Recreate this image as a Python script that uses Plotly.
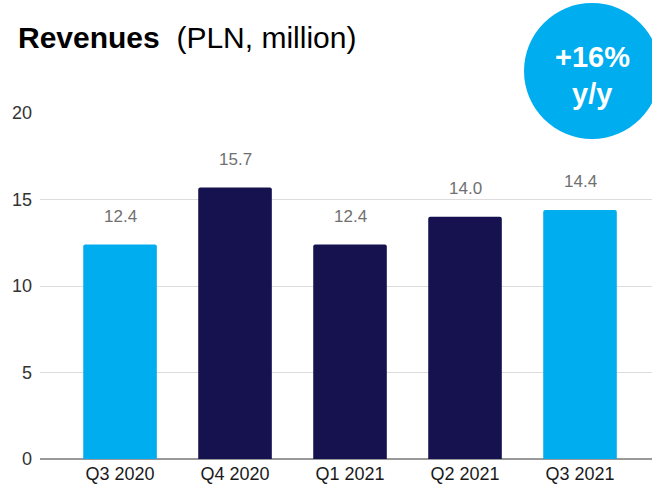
import plotly.graph_objects as go

quarters = ["Q3 2020", "Q4 2020", "Q1 2021", "Q2 2021", "Q3 2021"]
revenues = [12.4, 15.7, 12.4, 14.0, 14.4]
bar_colors = ["#00ADEF", "#15124F", "#15124F", "#15124F", "#00ADEF"]
y_ticks = [0, 5, 10, 15, 20]
growth_lines = ["+16%", "y/y"]

FONT = "Liberation Sans, Arial, Helvetica, sans-serif"
W, H = 652, 489
L, R, T, B = 40, 0, 113, 30
plot_w, plot_h = W - L - R, H - T - B


def px_x(p):
    return (p - L) / plot_w


def px_y(p):
    return (H - B - p) / plot_h


fig = go.Figure()
fig.add_trace(go.Bar(
    x=list(range(len(quarters))),
    y=revenues,
    marker=dict(color=bar_colors, line=dict(width=0), cornerradius=2),
    width=0.64,
    hoverinfo="skip",
))

# value labels above the bars
for i, v in enumerate(revenues):
    fig.add_annotation(
        x=i, y=v, text=f"{v:.1f}", showarrow=False,
        yshift=28, yanchor="middle", xanchor="center",
        font=dict(size=17, color="#707070", family=FONT),
    )

# title
fig.add_annotation(
    x=px_x(16), y=px_y(37), xref="paper", yref="paper", showarrow=False,
    text="<b>Revenues</b>  (PLN, million)",
    font=dict(size=30, color="#000000", family=FONT),
    xanchor="left", yanchor="middle",
)

# growth badge
cx, cy, r = 592, 71, 68
fig.add_shape(
    type="circle", xref="paper", yref="paper",
    x0=px_x(cx - r), x1=px_x(cx + r), y0=px_y(cy + r), y1=px_y(cy - r),
    fillcolor="#00ADEF", line=dict(width=0), layer="above",
)
for line_text, ypix in zip(growth_lines, [57, 94]):
    fig.add_annotation(
        x=px_x(cx), y=px_y(ypix), xref="paper", yref="paper", showarrow=False,
        text=f"<b>{line_text}</b>",
        font=dict(size=29, color="#ffffff", family=FONT),
        xanchor="center", yanchor="middle",
    )

fig.update_layout(
    width=W, height=H,
    margin=dict(l=L, r=R, t=T, b=B, pad=0),
    paper_bgcolor="white", plot_bgcolor="white",
    showlegend=False,
    xaxis=dict(
        range=[-0.696, 4.626],
        tickmode="array", tickvals=list(range(len(quarters))), ticktext=quarters,
        showgrid=False, zeroline=False, showline=False, ticks="",
        ticklabelstandoff=2,
        tickfont=dict(size=18, color="#1a1a1a", family=FONT),
        fixedrange=True,
    ),
    yaxis=dict(
        range=[0, 20],
        tickmode="array", tickvals=y_ticks,
        showgrid=True, gridcolor="#dcdcdc", gridwidth=1,
        zeroline=True, zerolinecolor="#999999", zerolinewidth=1.5,
        showline=False, ticks="", ticklabelstandoff=7,
        tickfont=dict(size=18, color="#333333", family=FONT),
        fixedrange=True,
    ),
)

fig.write_html("out.html")
